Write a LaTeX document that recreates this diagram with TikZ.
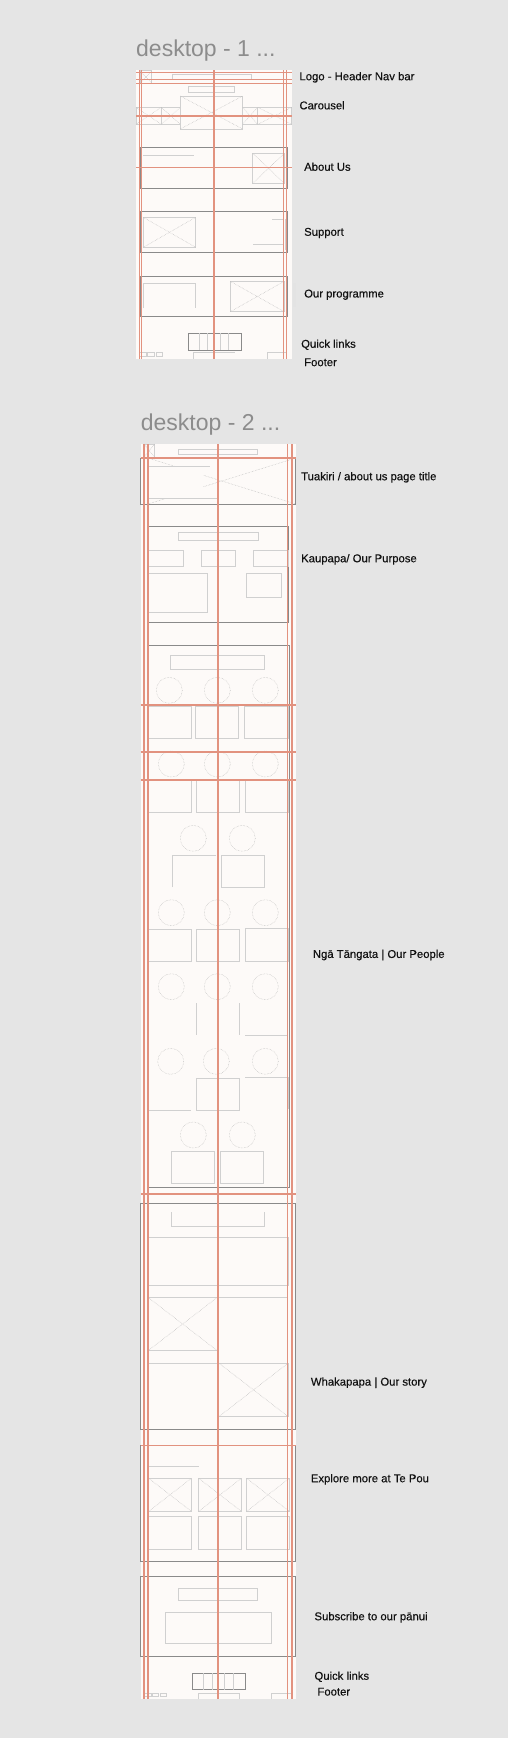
\documentclass[tikz,border=0pt]{standalone}
\usepackage{fontspec}
\setmainfont{Liberation Sans}
\newfontfamily\labfont[FakeBold=0.35]{Liberation Sans}
\definecolor{pagebg}{HTML}{E5E5E5}
\definecolor{framebg}{HTML}{FDFAF8}
\definecolor{redg}{HTML}{E2927F}
\definecolor{sectc}{HTML}{8A8A8A}
\definecolor{wlc}{HTML}{D0D0D0}
\definecolor{titlec}{HTML}{8C8C8C}
\definecolor{labc}{HTML}{111111}
\newcommand\imgbox[4]{%
  \draw[wl] (#1,#2) rectangle (#3,#4);
  \draw[wlx] (#1,#2) -- (#3,#4) (#1,#4) -- (#3,#2);}
\begin{document}
\begin{tikzpicture}[x=1pt,y=-1pt,
  frame/.style={fill=framebg,draw=none},
  guide/.style={draw=redg,line width=1.3pt},
  sect/.style={draw=sectc,line width=0.75pt},
  wl/.style={draw=wlc,line width=0.6pt},
  wlx/.style={draw=wlc!90!black,line width=0.5pt,densely dotted},
  circ/.style={draw=gray!50,line width=0.5pt,densely dotted,fill=framebg},
  ttl/.style={font=\fontsize{23}{25}\selectfont,text=titlec,anchor=west,inner sep=0pt},
  lab/.style={font=\labfont\fontsize{11.3}{13}\selectfont,text=labc,anchor=west,inner sep=0pt}]
\useasboundingbox (0,0) rectangle (508,1738);
\fill[pagebg] (0,0) rectangle (508,1738);

% ---------- frame 1 ----------
\node[ttl] (t1) at (136,50.7) {desktop - 1 ...};
\fill[frame] (136,70) rectangle (292,359);
\imgbox{140}{70.7}{151.7}{83.3}
\draw[wl] (172.3,74.3) rectangle (251,79.3);
\draw[wl] (188,86) rectangle (234.3,92.3);
\imgbox{180.3}{96}{242.7}{129}
\imgbox{136}{107.3}{161.3}{124.3}
\imgbox{161.3}{107.3}{180.3}{124.3}
\imgbox{242.7}{107.3}{257.7}{124.3}
\imgbox{257.7}{107.3}{291.7}{124.3}
% about
\draw[sect] (140.7,147.3) rectangle (287,188.3);
\draw[wl] (143.3,155.3) -- (194,155.3);
\imgbox{252.7}{153.3}{284.3}{183.3}
% support
\draw[sect] (140.7,211.7) rectangle (287,252.3);
\imgbox{143.3}{217.3}{195.7}{247.3}
\draw[wl] (272,219.3) -- (284.3,219.3);
\draw[wl] (253.3,244.3) -- (284.3,244.3);
\draw[wl] (285.7,219.3) -- (285.7,250);
% programme
\draw[sect] (140.7,276.3) rectangle (287,316.3);
\draw[wl] (143.3,308.3) -- (143.3,283.3) -- (195.7,283.3) -- (195.7,308.3);
\imgbox{230.3}{281.3}{284.3}{311.7}
\fill[gray!22] (292.7,283.3) rectangle (296,307.3);
% footer
\draw[sect] (188,333) rectangle (241.7,350.3);
\draw[wl] (199.3,333) -- (199.3,350.3) (207.3,333) -- (207.3,350.3)
          (220.7,333) -- (220.7,350.3) (228.3,333) -- (228.3,350.3);
\draw[wl] (139.3,352.7) rectangle (146,356.7) (147.3,352.7) rectangle (154,356.7)
          (156,352.7) rectangle (162.7,356.7);
\draw[wl] (193.3,359) -- (193.3,352.5) -- (235,352.5);
\draw[wl] (267.3,359) -- (267.3,352.5) -- (286.7,352.5);
% guides
\foreach \gx in {139.5,141.5,214,283.5,286.5} \draw[guide] (\gx,70) -- (\gx,359);
\foreach \gy in {72.7,79.3,83.3,116,167.3} \draw[guide] (136,\gy) -- (292,\gy);

% labels 1
\node[lab] (l1) at (299.3,77.3) {Logo - Header Nav bar};
\node[lab] (l2) at (299.3,105.3) {Carousel};
\node[lab] (l3) at (304,166.7) {About Us};
\node[lab] (l4) at (304,233) {Support};
\node[lab] (l5) at (304,294.7) {Our programme};
\node[lab] (l6) at (301,344.7) {Quick links};
\node[lab] (l7) at (304,362.3) {Footer};

% ---------- frame 2 ----------
\node[ttl] (t2) at (140.7,425) {desktop - 2 ...};
\fill[frame] (140.7,444) rectangle (295.7,1699.3);
\imgbox{144}{444}{154.7}{457.3}
\draw[wl] (178.3,449) rectangle (257.7,454);
% tuakiri
\draw[wlx] (148,458) -- (295.7,504) (295.7,458) -- (148,504);
\fill[framebg] (148,466.7) rectangle (203,498.3);
\draw[wl] (148,466.7) -- (210,466.7) (148,498.3) -- (216.7,498.3);
\draw[sect] (140.7,458) rectangle (295.7,504.3);
% kaupapa
\draw[sect] (147.3,526.7) rectangle (288.7,622.7);
\draw[wl] (178.3,532.3) rectangle (258.3,540.3);
\draw[wl] (148,550.3) rectangle (183.3,566.3) (201,550.3) rectangle (235.3,566.3)
          (253.3,550.3) rectangle (288.7,566.3);
\draw[wl] (148,573) -- (207.3,573) -- (207.3,612.3) -- (148,612.3);
\draw[wl] (246.7,573) rectangle (281.7,597.3);
% people
\draw[sect] (147.3,645.3) rectangle (289,1187);
\draw[wl] (170.7,655) rectangle (264.3,669.3);
\foreach \cx in {169.3,217.3,265.3} \draw[circ] (\cx,690.3) circle (13);
\draw[wl] (147.3,706) rectangle (191.3,738.3) (195.3,706) rectangle (238.3,738.3)
          (244.3,706) rectangle (288.3,738.3);
\foreach \cx in {171.3,217.3,265.3} \draw[circ] (\cx,764) circle (13);
\draw[wl] (148,780) rectangle (191.3,812.3) (196.3,780) rectangle (239.7,812.3)
          (245.3,780) rectangle (288.3,812.3);
\foreach \cx in {193.3,242.3} \draw[circ] (\cx,838.3) circle (13);
\draw[wl] (172.3,887.3) -- (172.3,855) -- (215.7,855);
\draw[wl] (221.3,855) rectangle (264.3,887.3);
\foreach \cx in {171.3,217.3,265.3} \draw[circ] (\cx,912.7) circle (13);
\draw[wl] (148,929.3) rectangle (191.3,961) (196.3,929.3) rectangle (239.7,961)
          (245.3,928.3) rectangle (288.3,961);
\foreach \cx in {171.3,217.3,265.3} \draw[circ] (\cx,986.7) circle (13);
\draw[wl] (196.3,1003.3) -- (196.3,1035.3) (239.7,1003.3) -- (239.7,1035.3)
          (245.3,1035.3) -- (288.3,1035.3);
\foreach \cx in {170.7,216.3,265.3} \draw[circ] (\cx,1061.3) circle (13);
\draw[wl] (148,1110) -- (191.3,1110) (196.3,1078) rectangle (239.7,1110)
          (245.3,1077.7) -- (288.3,1077.7) -- (288.3,1109);
\foreach \cx in {193.3,242.3} \draw[circ] (\cx,1135) circle (13);
\draw[wl] (171.7,1151) rectangle (214.7,1183.3) (220,1151) rectangle (263.3,1183.3);
% whakapapa
\draw[sect] (140.7,1203.3) rectangle (295.7,1429);
\draw[wl] (171.7,1212.3) -- (171.7,1226.3) -- (264.3,1226.3) -- (264.3,1212.3);
\draw[wl] (148,1237.3) rectangle (288.3,1285.3);
\draw[wl] (148,1297.3) -- (288.3,1297.3);
\imgbox{148}{1297.3}{217.3}{1350.7}
\draw[wl] (148,1363) -- (288.3,1363);
\imgbox{218.7}{1363}{288.3}{1416.7}
% explore
\draw[sect] (140.7,1445.7) rectangle (295.7,1561.3);
\draw[wl] (148.7,1466.7) -- (198.7,1466.7);
\imgbox{148.7}{1478.3}{191.3}{1511.3}
\imgbox{198.7}{1478.3}{241.3}{1511.3}
\imgbox{246.7}{1478.3}{289.3}{1511.3}
\draw[wl] (148.7,1516.3) rectangle (191.3,1549.3) (198.7,1516.3) rectangle (241.3,1549.3)
          (246.7,1516.3) rectangle (289.3,1549.3);
% subscribe
\draw[sect] (140.7,1576.7) rectangle (295.7,1656.3);
\draw[wl] (178.3,1588.3) rectangle (257.7,1600.3);
\draw[wl] (165.3,1612.3) rectangle (271.7,1643.3);
% footer
\draw[sect] (192.3,1673) rectangle (245.7,1689.7);
\draw[wl] (203.3,1673) -- (203.3,1689.7) (212.3,1673) -- (212.3,1689.7)
          (224.7,1673) -- (224.7,1689.7) (233.3,1673) -- (233.3,1689.7);
\draw[wl] (144,1693.3) rectangle (151,1696) (152.3,1693.3) rectangle (158.7,1696)
          (160,1693.3) rectangle (166.7,1696);
\draw[wl] (198,1699) -- (198,1693.3) -- (239.7,1693.3) -- (239.7,1699);
\draw[wl] (271.3,1699) -- (271.3,1693.3) -- (290.7,1693.3);
% guides
\foreach \gx in {144,148,218,287.7,292} \draw[guide] (\gx,444) -- (\gx,1699.3);
\foreach \gy in {458,752,780,1194,1445.7} \draw[guide] (140.7,\gy) -- (295.7,\gy);
\draw[guide,line width=2.4pt] (140.7,705) -- (295.7,705);

% labels 2
\node[lab] (m1) at (301,477.3) {Tuakiri / about us page title};
\node[lab] (m2) at (301,559.3) {Kaupapa/ Our Purpose};
\node[lab] (m3) at (312.7,955) {Ngā Tāngata | Our People};
\node[lab] (m4) at (310.7,1382.7) {Whakapapa | Our story};
\node[lab] (m5) at (310.7,1479.3) {Explore more at Te Pou};
\node[lab] (m6) at (314.3,1617.3) {Subscribe to our pānui};
\node[lab] (m7) at (314.3,1676.7) {Quick links};
\node[lab] (m8) at (317.3,1691.7) {Footer};
\end{tikzpicture}
\end{document}
